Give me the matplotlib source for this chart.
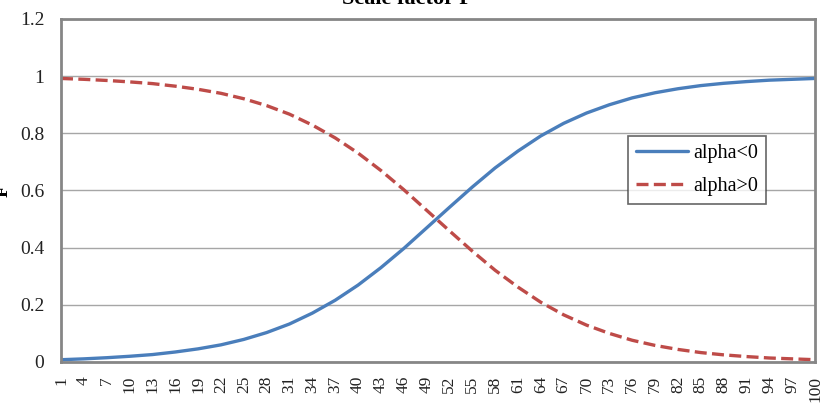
import numpy as np
import matplotlib
matplotlib.use("Agg")
import matplotlib.pyplot as plt

# values at every third category (1, 4, ..., 100)
X_POINTS = list(range(1, 101, 3))
ALPHA_NEG = [0.008, 0.011, 0.015, 0.020, 0.026, 0.035, 0.046, 0.060, 0.079, 0.103,
             0.133, 0.171, 0.216, 0.269, 0.330, 0.397, 0.469, 0.541, 0.612, 0.679,
             0.738, 0.791, 0.835, 0.871, 0.900, 0.924, 0.942, 0.956, 0.967, 0.975,
             0.981, 0.986, 0.989, 0.992]
ALPHA_POS = [0.992, 0.989, 0.985, 0.980, 0.974, 0.965, 0.954, 0.940, 0.921, 0.897,
             0.867, 0.829, 0.784, 0.731, 0.670, 0.603, 0.531, 0.459, 0.388, 0.321,
             0.262, 0.209, 0.165, 0.129, 0.100, 0.076, 0.058, 0.044, 0.033, 0.025,
             0.019, 0.014, 0.011, 0.008]
X_TICKS = list(range(1, 101, 3))
Y_TICKS = [0, 0.2, 0.4, 0.6, 0.8, 1.0, 1.2]
Y_TICK_LABELS = ["0", "0.2", "0.4", "0.6", "0.8", "1", "1.2"]

plt.rcParams["font.family"] = ["Liberation Serif", "DejaVu Serif"]

fig = plt.figure(figsize=(8.21, 4.18), dpi=100)
ax = fig.add_axes([61 / 821, 1 - 362 / 418, 754 / 821, 343 / 418])

ax.plot(X_POINTS, ALPHA_NEG, color="#4a7ebb", lw=2.4, label="alpha<0",
        solid_capstyle="round")
ax.plot(X_POINTS, ALPHA_POS, color="#be4b48", lw=2.4, label="alpha>0",
        dashes=(3.6, 1.6), dash_capstyle="butt")

ax.set_xlim(1, 100)
ax.set_ylim(0, 1.2)
ax.set_xticks(X_TICKS)
ax.set_xticklabels([str(t) for t in X_TICKS], rotation=90, fontsize=12.5, color="#222222")
ax.set_yticks(Y_TICKS)
ax.set_yticklabels(Y_TICK_LABELS, fontsize=14, color="#222222")
ax.tick_params(axis="x", length=0, pad=10)
ax.tick_params(axis="y", length=0, pad=12)

ax.grid(axis="y", color="#a6a6a6", lw=1.0)
ax.set_axisbelow(True)
for s in ax.spines.values():
    s.set_color("#868686")
    s.set_linewidth(2.0)

leg = ax.legend(loc="upper left", bbox_to_anchor=(0.752, 0.659), fontsize=14.5,
                frameon=True, fancybox=False, handlelength=2.6, handletextpad=0.25,
                labelspacing=0.7, borderpad=0.38, borderaxespad=0)
leg.get_frame().set_edgecolor("#404040")
leg.get_frame().set_linewidth(1.2)

fig.text(407 / 821, 1 - 4 / 418, "Scale factor F", ha="center", va="baseline",
         fontsize=16, fontweight="bold")
fig.text(3 / 821, 1 - 191 / 418, "F", ha="center", va="center", rotation=90,
         fontsize=14, fontweight="bold")

fig.savefig("out.png", dpi=100)
